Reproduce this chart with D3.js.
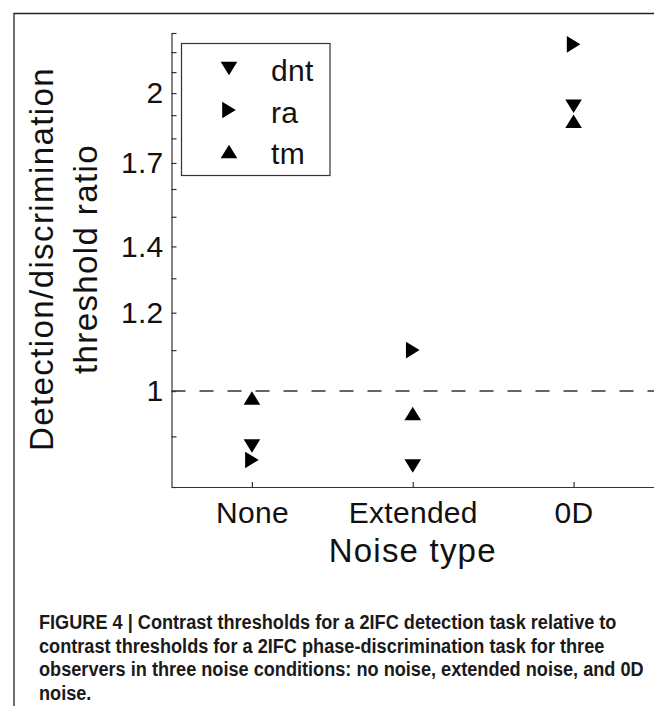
<!DOCTYPE html>
<html>
<head>
<meta charset="utf-8">
<script src="https://cdn.jsdelivr.net/npm/d3@7/dist/d3.min.js"></script>
<style>
  body { margin: 0; background: #fff; }
  svg { display: block; }
</style>
</head>
<body>
<script>
// values
const categories = ["None", "Extended", "0D"];
const dntValues = [0.880, 0.840, 1.940];
const raValues = [0.852, 1.100, 2.240];
const tmValues = [0.984, 0.949, 1.873];
const seriesNames = ["dnt", "ra", "tm"];
const yTickValues = [0.8, 0.9, 1, 1.1, 1.2, 1.3, 1.4, 1.5, 1.6, 1.7, 1.8, 1.9, 2, 2.1, 2.2, 2.3];
const yTickLabels = [1, 1.2, 1.4, 1.7, 2];
const yDomain = [0.8, 2.3];
const refLevel = 1;
const captionLines = [
  "FIGURE 4 | Contrast thresholds for a 2IFC detection task relative to",
  "contrast thresholds for a 2IFC phase-discrimination task for three",
  "observers in three noise conditions: no noise, extended noise, and 0D",
  "noise."
];

var width = 654,
    height = 706;

var svg = d3.select("body")
  .append("svg")
  .attr("width", width)
  .attr("height", height)
  .style("font-family", "'Liberation Sans', Arial, Helvetica, sans-serif");

// frame of the figure panel
svg.append("path")
  .attr("d", `M14,${height} L14,13.5 L${width},13.5`)
  .attr("fill", "none")
  .attr("stroke", "#222")
  .attr("stroke-width", 1.3);

var plot = { left: 171.5, right: 654, top: 33, bottom: 487 };

var x = d3.scalePoint()
  .domain(categories)
  .range([plot.left, plot.right])
  .padding(0.5);

var y = d3.scaleLog()
  .domain(yDomain)
  .range([plot.bottom, plot.top]);

// triangle markers, the way matlab draws v > ^
function marker(shape) {
  var a = 8.3, b = 6.8;
  if (shape == "down") return `M${-a},${-b}L${a},${-b}L0,${b}Z`;
  if (shape == "right") return `M${-b},${-a}L${b},0L${-b},${a}Z`;
  return `M${-a},${b}L${a},${b}L0,${-b}Z`;
}

var series = [
  { name: seriesNames[0], values: dntValues, shape: "down" },
  { name: seriesNames[1], values: raValues, shape: "right" },
  { name: seriesNames[2], values: tmValues, shape: "up" }
];

// dashed line at ratio 1
svg.append("line")
  .attr("x1", plot.left)
  .attr("x2", plot.right)
  .attr("y1", y(refLevel))
  .attr("y2", y(refLevel))
  .attr("stroke", "#333")
  .attr("stroke-width", 1.4)
  .attr("stroke-dasharray", "14,14");

// y axis
var yAxis = d3.axisLeft(y)
  .tickValues(yTickValues)
  .tickSizeInner(-5)
  .tickSizeOuter(0)
  .tickPadding(8)
  .tickFormat(function(d) {
    var hit = yTickLabels.find(function(v) { return Math.abs(v - d) < 1e-6; });
    return hit === undefined ? "" : String(hit);
  });

var gy = svg.append("g")
  .attr("transform", `translate(${plot.left},0)`)
  .call(yAxis);

// x axis
var xAxis = d3.axisBottom(x)
  .tickSizeInner(-5)
  .tickSizeOuter(0)
  .tickPadding(15);

var gx = svg.append("g")
  .attr("transform", `translate(0,${plot.bottom})`)
  .call(xAxis);

[gx, gy].forEach(function(g) {
  g.selectAll("path, line").attr("stroke", "#333").attr("stroke-width", 1.2);
  g.selectAll("text")
    .attr("fill", "#111")
    .style("font-family", "'Liberation Sans', Arial, sans-serif")
    .style("font-size", "30px")
    .style("letter-spacing", "0.3px");
});

// points
series.forEach(function(s) {
  svg.append("g")
    .selectAll("path")
    .data(s.values)
    .enter().append("path")
      .attr("transform", function(d, i) { return `translate(${x(categories[i])},${y(d)})`; })
      .attr("d", marker(s.shape))
      .attr("fill", "#000");
});

// axis titles
var ylab = svg.append("g")
  .attr("fill", "#111")
  .style("font-size", "33px")
  .style("letter-spacing", "1.4px")
  .attr("text-anchor", "middle");

ylab.append("text")
  .attr("transform", `translate(53,259) rotate(-90)`)
  .text("Detection/discrimination");

ylab.append("text")
  .attr("transform", `translate(97,259) rotate(-90)`)
  .text("threshold ratio");

svg.append("text")
  .attr("x", (plot.left + plot.right) / 2)
  .attr("y", 562)
  .attr("text-anchor", "middle")
  .attr("fill", "#111")
  .style("font-size", "33px")
  .style("letter-spacing", "1.2px")
  .text("Noise type");

// legend
var legend = svg.append("g");

legend.append("rect")
  .attr("x", 181.5)
  .attr("y", 43.5)
  .attr("width", 148.5)
  .attr("height", 132)
  .attr("fill", "#fff")
  .attr("stroke", "#333")
  .attr("stroke-width", 1.2);

var entry = legend.selectAll(".entry")
  .data(series)
  .enter().append("g")
    .attr("class", "entry")
    .attr("transform", function(d, i) { return `translate(229,${68.5 + i * 41.5})`; });

entry.append("path")
  .attr("d", function(d) { return marker(d.shape); })
  .attr("fill", "#000");

entry.append("text")
  .attr("x", 42)
  .attr("y", 12.5)
  .attr("fill", "#111")
  .style("font-size", "30px")
  .style("letter-spacing", "0.3px")
  .text(function(d) { return d.name; });

// caption, bold and condensed
var caption = svg.append("g")
  .attr("fill", "#1a1a1a")
  .style("font-family", "'Liberation Sans Narrow', 'Liberation Sans', Arial, sans-serif")
  .style("font-weight", "bold")
  .style("font-size", "21px");

var lines = caption.selectAll("text")
  .data(captionLines)
  .enter().append("text")
    .text(function(d) { return d; });

var firstWidth = lines.node().getComputedTextLength();
var sx = 578 / firstWidth;
lines.attr("transform", function(d, i) { return `translate(39,${629 + i * 23.7}) scale(${sx},1)`; });
</script>
</body>
</html>
